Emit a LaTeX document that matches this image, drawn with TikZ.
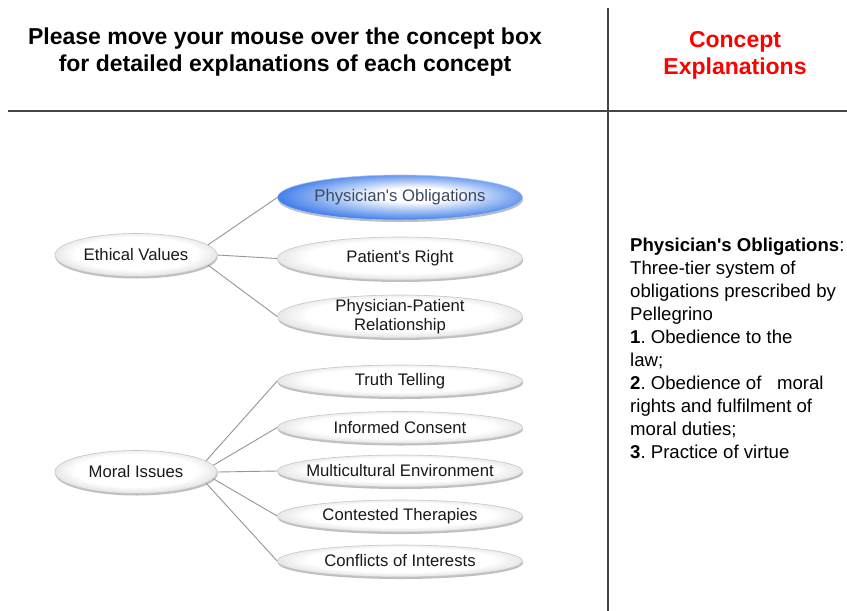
\documentclass[tikz,border=0pt]{standalone}
\usepackage{fontspec}
\setmainfont{Liberation Sans}[Ligatures=TeXOff]
\usetikzlibrary{shapes.geometric,shadows}
\definecolor{bluerim}{RGB}{38,108,230}
\definecolor{linegray}{RGB}{150,150,150}
\definecolor{rulegray}{RGB}{70,70,70}
\definecolor{obltext}{RGB}{60,72,100}
\definecolor{hdrred}{RGB}{255,0,0}
% the ellipse rim lies at about 35bp of these shadings
\pgfdeclareradialshading{grayell}{\pgfpoint{0bp}{3bp}}{color(0bp)=(white); color(19bp)=(white); color(28bp)=(black!14); color(35bp)=(black!42); color(50bp)=(black!42)}
\pgfdeclareradialshading{blueell}{\pgfpoint{4bp}{3.5bp}}{color(0bp)=(white); color(8bp)=(white); color(17bp)=(bluerim!42); color(27bp)=(bluerim!88); color(34bp)=(bluerim); color(50bp)=(bluerim)}
\begin{document}
\frenchspacing
\begin{tikzpicture}[x=1pt,y=-1pt,
  ell/.style n args={3}{ellipse, inner sep=0pt, minimum width=#1, minimum height=#2,
    draw=black!22, line width=0.6pt, shading=#3,
    drop shadow={shadow xshift=0.5pt, shadow yshift=-2pt, opacity=0.25, fill=black}},
  parentell/.style={ell={162}{43}{grayell}},
  childell/.style={ell={245}{43}{grayell}},
  smallell/.style={ell={245}{32}{grayell}},
  oblell/.style={ell={245}{45}{blueell}, draw=bluerim!40},
  lbl/.style={font=\fontsize{16.7}{19}\selectfont, text=black!90, align=center, inner sep=0pt},
  obllbl/.style={lbl, text=obltext},
  conn/.style={draw=linegray, line width=0.9pt},
  rule/.style={draw=rulegray, line width=1.4pt},
  hdr/.style={font=\fontsize{23}{27}\selectfont\bfseries, align=center, inner sep=0pt}
]
\useasboundingbox (0,0) rectangle (847,611);
\fill[white] (0,0) rectangle (847,611);

% frame lines
\draw[rule] (8,111) -- (847,111);
\draw[rule] (608,8) -- (608,611);

% headers
\node[hdr, anchor=north] (title) at (285,27.5) {Please move your mouse over the concept box\\for detailed explanations of each concept};
\node[hdr, anchor=north, text=hdrred] (expltitle) at (735,31) {Concept\\Explanations};

% ellipses
\node[parentell, label={[lbl]center:Ethical Values}] (ev) at (136,255) {};
\node[oblell, label={[obllbl]center:Physician's Obligations}] (po) at (400,197.5) {};
\node[childell, label={[lbl]center:Patient's Right}] (pr) at (400,258.5) {};
\node[childell, label={[lbl]center:Physician-Patient\\Relationship}] (ppr) at (400,316.5) {};

\node[parentell, label={[lbl]center:Moral Issues}] (mi) at (136,472) {};
\node[smallell, label={[lbl]center:Truth Telling}] (tt) at (400,381) {};
\node[smallell, label={[lbl]center:Informed Consent}] (ic) at (400,427.5) {};
\node[smallell, label={[lbl]center:Multicultural Environment}] (me) at (400,471) {};
\node[smallell, label={[lbl]center:Contested Therapies}] (ct) at (400,516) {};
\node[smallell, label={[lbl]center:Conflicts of Interests}] (ci) at (400,561) {};

% connectors
\draw[conn] (ev.8) -- (po.west);
\draw[conn] (ev.east) -- (pr.west);
\draw[conn] (ev.-8) -- (ppr.west);
\draw[conn] (mi.9) -- (tt.west);
\draw[conn] (mi.5) -- (ic.west);
\draw[conn] (mi.east) -- (me.west);
\draw[conn] (mi.-5) -- (ct.west);
\draw[conn] (mi.-9) -- (ci.west);

% explanation text
\node[anchor=north west, inner sep=0pt, align=left, font=\fontsize{18.6}{23}\selectfont] (expl) at (630,237.6)
{\textbf{Physician's Obligations}:\\
Three-tier system of\\
obligations prescribed by\\
Pellegrino\\
\textbf{1}. Obedience to the\\
law;\\
\textbf{2}. Obedience of\ \ \ moral\\
rights and fulfilment of\\
moral duties;\\
\textbf{3}. Practice of virtue};
\end{tikzpicture}
\end{document}
